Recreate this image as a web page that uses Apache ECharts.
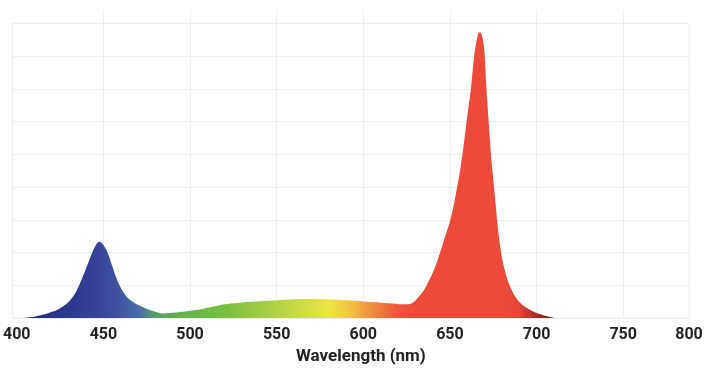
<!DOCTYPE html>
<html>
<head>
<meta charset="utf-8">
<script src="https://cdn.jsdelivr.net/npm/echarts@6/dist/echarts.min.js"></script>
<style>
html,body{margin:0;padding:0;background:#fff;}
#chart{width:720px;height:377px;}
</style>
</head>
<body>
<div id="chart"></div>
<script>
// Wavelength (nm)
const wavelengths = [400,405,410,415,420,425,430,434,438,441,444,446,447.5,449,452,455,458,461,464,468,472,476,480,484,488,492,496,500,505,510,515,520,527,535,545,555,565,575,585,595,605,615,622,626,629,632,635,638,641,644,647,650,652,654,656,658,660,662,664,665.5,667,668,669,670,671,672.3,674,676,678,680,682,684,687,690,694,698,702,706,710];
// Relative intensity
const intensity = [0,0.1,0.4,1.0,1.8,3.0,5.0,7.8,12.5,16.5,20.5,22.6,23.3,22.9,20.5,16.0,11.5,8.3,6.2,4.6,3.5,2.6,1.9,1.4,1.5,1.7,1.9,2.2,2.5,3.1,3.7,4.2,4.6,5.0,5.3,5.6,5.8,5.8,5.6,5.3,4.9,4.5,4.2,4.2,4.8,6.5,8.5,11.5,15.0,19.5,24.5,29.5,34,39.5,45.5,53,61.5,69.5,80,85,87.3,87,85,80.8,70.6,60.5,48,37,26,18.5,14,10.5,7.2,5.0,3.2,2.0,1.2,0.5,0];
// Spectrum colours, one per 10 nm from 400 to 710
const spectrumColors = ['#1f2a80','#212d85','#253289','#2a388e','#313f95','#37479b','#3f55a2','#4a6aa8','#58a06a','#62ac52','#66b34a','#6cbb44','#78bf43','#8ac542','#9fcb43','#b2d244','#c6d945','#d7df45','#e9e643','#efcb42','#f0a342','#ee7a3f','#ee543b','#ed4b3a','#ed4b3a','#ed4b3a','#ed4b3a','#ed4b3a','#ed4b3a','#e5473a','#a52828','#7a1515'];
const xTickLabels = ['400','450','500','550','600','650','700','750','800'];

const chart = echarts.init(document.getElementById('chart'));
const gridLine = {show:true, lineStyle:{color:'#efefef', width:1}};
chart.setOption({
  animation:false,
  backgroundColor:'#fff',
  grid:[
    {left:12.5, right:31, top:10, bottom:59},
    {left:12.5, right:31, top:23.3, bottom:59, show:true, borderColor:'#eeeeee', borderWidth:1, backgroundColor:'transparent'}
  ],
  visualMap:{
    show:false, type:'continuous', dimension:0, seriesIndex:0,
    min:400, max:710, inRange:{color:spectrumColors}
  },
  xAxis:[
    {gridIndex:0, type:'value', min:400, max:788, interval:50,
     axisLine:{show:false}, axisTick:{show:false},
     splitLine:Object.assign({showMinLine:false, showMaxLine:false}, gridLine),
     axisLabel:{show:true, showMaxLabel:true, margin:9, color:'#222', fontFamily:'Roboto', fontWeight:'bold', fontSize:16,
       formatter:(v,i)=>xTickLabels[i]},
     name:'Wavelength (nm)', nameLocation:'middle', nameGap:30,
     nameTextStyle:{color:'#222', fontFamily:'Roboto', fontWeight:'bold', fontSize:17, padding:[0,0,0,16]}
    },
    {gridIndex:1, type:'value', min:400, max:788, show:false}
  ],
  yAxis:[
    {gridIndex:0, type:'value', min:0, max:94.06, show:false, splitLine:{show:false}},
    {gridIndex:1, type:'value', min:0, max:90, interval:10,
     axisLine:{show:false}, axisTick:{show:false}, axisLabel:{show:false},
     splitLine:gridLine}
  ],
  series:[{
    type:'line', xAxisIndex:0, yAxisIndex:0,
    data:wavelengths.map((w,i)=>[w,intensity[i]]),
    smooth:0.35, symbol:'none',
    lineStyle:{width:0},
    areaStyle:{opacity:1}
  }]
});
</script>
</body>
</html>
